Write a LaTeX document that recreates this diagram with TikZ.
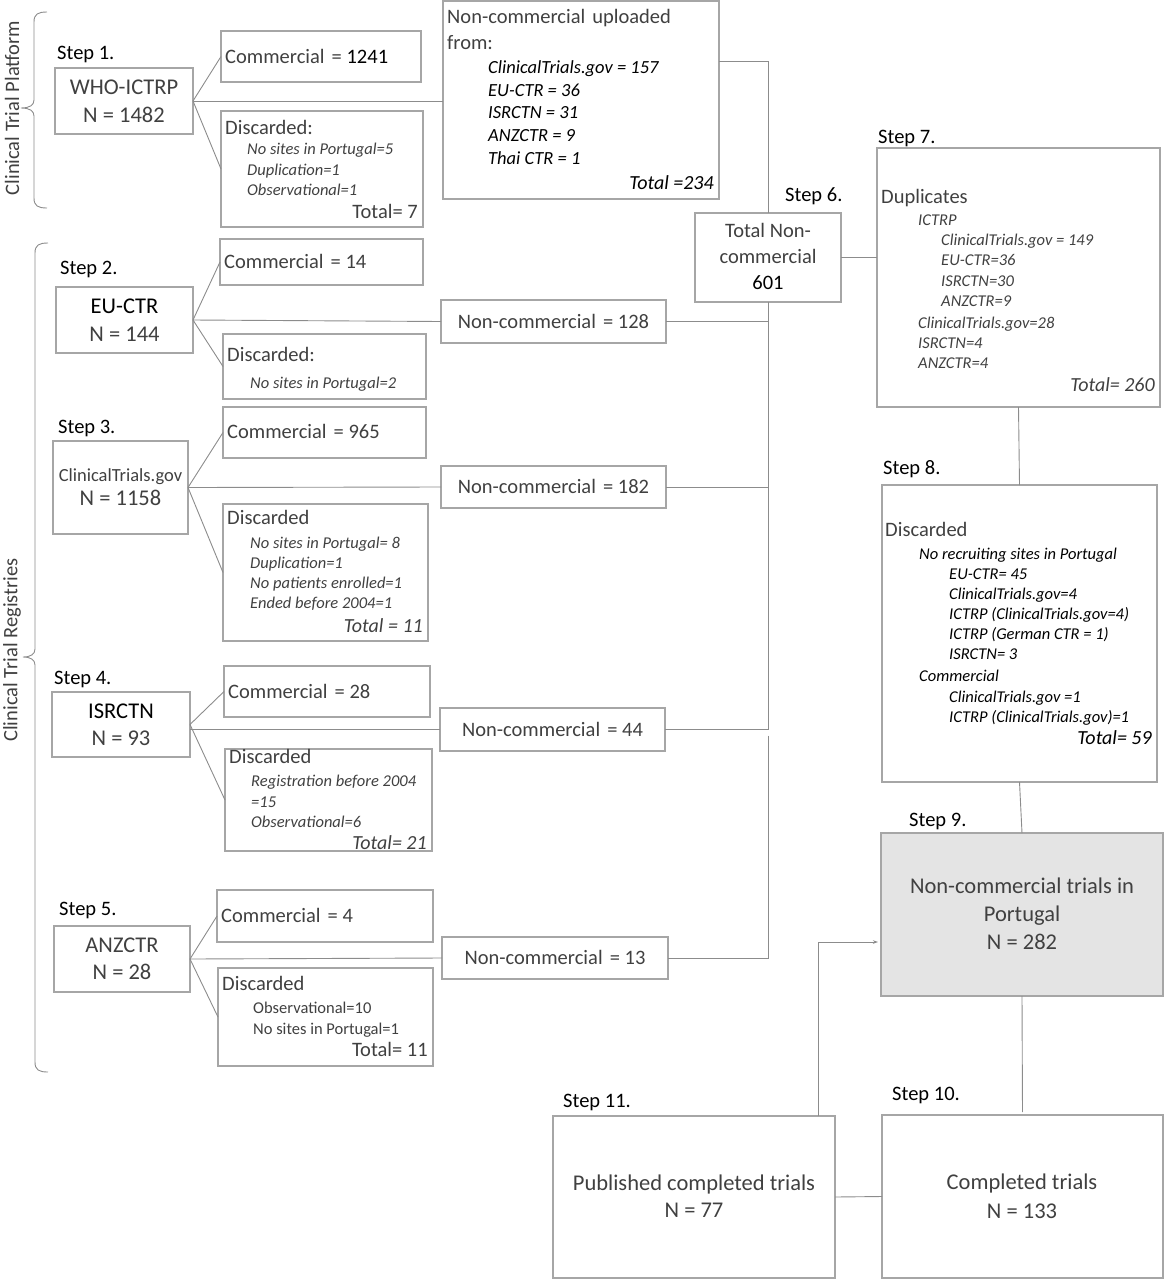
\documentclass[tikz,border=0pt]{standalone}
\usepackage{fontspec}
\setmainfont{Carlito}
\usetikzlibrary{arrows.meta,calc}
\definecolor{txtc}{HTML}{404040}
\definecolor{boxc}{HTML}{A6A6A6}
\definecolor{linec}{HTML}{8C8C8C}
\definecolor{fillnine}{HTML}{E4E4E4}
\newcommand\fszA{\fontsize{22.5}{26}\selectfont}
\newcommand\fszB{\fontsize{20.5}{24}\selectfont}
\newcommand\fszC{\fontsize{16.5}{20}\selectfont\itshape}
\newcommand\fszD{\fontsize{18.5}{22}\selectfont\itshape}
\newcommand\fszE{\fontsize{20}{24}\selectfont\itshape}
\newcommand\mkbox[5]{\node[boxs, minimum width={(#4)-(#2)}, minimum height={(#5)-(#3)}] (#1) at ({((#2)+(#4))/2},{((#3)+(#5))/2}) {};}
\begin{document}
\begin{tikzpicture}[x=1pt,y=-1pt,
  boxs/.style={draw=boxc, line width=1.1pt, inner sep=0, outer sep=0, rectangle},
  lnk/.style={draw=linec, line width=0.9pt},
  tA/.style={font=\fszA, text=txtc, inner sep=0},
  tB/.style={font=\fszB, text=txtc, inner sep=0},
  tC/.style={font=\fszC, text=txtc, inner sep=0},
  tCk/.style={font=\fszC, text=black, inner sep=0},
  tCu/.style={font=\fontsize{16.5}{20}\selectfont, text=txtc, inner sep=0},
  tD/.style={font=\fszD, text=black, inner sep=0},
  tE/.style={font=\fszE, text=txtc, inner sep=0},
  stl/.style={font=\fszB, text=black, inner sep=0, anchor=mid west}]
\useasboundingbox (0,0) rectangle (1164,1280);

% ---------- boxes ----------
\mkbox{who}{55}{68}{193}{134}
\mkbox{comA}{221}{31}{421}{82}
\mkbox{disA}{221}{111}{423}{227}
\mkbox{up}{443}{1}{719}{199}
\mkbox{tot}{695}{213}{841}{302}
\mkbox{eu}{56}{287}{193}{353}
\mkbox{comB}{220}{239}{423}{285}
\mkbox{disB}{223}{334}{426}{399}
\mkbox{ncB}{441}{300}{666}{343}
\mkbox{ct}{53}{441}{188}{534}
\mkbox{comC}{223}{407}{426}{458}
\mkbox{disC}{223}{504}{428}{641}
\mkbox{ncC}{441}{466}{666}{508}
\mkbox{is}{52}{692}{190}{757}
\mkbox{comD}{224}{666}{430}{717}
\mkbox{disD}{225}{749}{432}{851}
\mkbox{ncD}{440}{708}{665}{751}
\mkbox{anz}{54}{926}{190}{992}
\mkbox{comE}{217}{890}{433}{942}
\mkbox{disE}{218}{968}{433}{1066}
\mkbox{ncE}{442}{937}{668}{979}
\mkbox{sseven}{877}{148}{1160}{407}
\mkbox{seight}{882}{485}{1157}{782}
\node[boxs, fill=fillnine, minimum width=282, minimum height=163] (snine) at (1022,914.5) {};
\mkbox{sten}{882}{1115}{1163}{1278}
\mkbox{seleven}{553}{1116}{835}{1278}

% ---------- braces ----------
\draw[lnk] (47,12) .. controls (38,12) and (34,14) .. (34,22) -- (34,100)
  .. controls (34,105) and (30,108) .. (21,108)
  .. controls (30,108) and (34,111) .. (34,116) -- (34,198)
  .. controls (34,206) and (38,208) .. (47,208);
\draw[lnk] (48,243) .. controls (39,243) and (35,245) .. (35,253) -- (35,649)
  .. controls (35,654) and (31,657) .. (23,657)
  .. controls (31,657) and (35,660) .. (35,665) -- (35,1062)
  .. controls (35,1070) and (39,1072) .. (48,1072);
\node[font=\fszB, text=txtc, inner sep=0, rotate=90] (lblA) at (12,108) {Clinical Trial Platform};
\node[font=\fszB, text=txtc, inner sep=0, rotate=90] (lblB) at (12,650) {Clinical Trial Registries};

% ---------- connectors ----------
\draw[lnk] (who.east) -- (comA.west);
\draw[lnk] (who.east) -- (disA.west);
\draw[lnk] (who.east) -- (who.east -| up.west);
\draw[lnk] ([yshift=39pt]up.east) -| (tot.north);
\draw[lnk] (tot.east) -- (tot.east -| sseven.west);
\draw[lnk] (tot.south) -- (tot.south |- ncD.east);
\draw[lnk] ([yshift=-6pt]tot.south |- ncD.east) -- (tot.south |- ncE.east) -- (ncE.east);
\draw[lnk] (ncB.east) -- (ncB.east -| tot.south);
\draw[lnk] (ncC.east) -- (ncC.east -| tot.south);
\draw[lnk] (ncD.east) -- (ncD.east -| tot.south);

\draw[lnk] (eu.east) -- (comB.west);
\draw[lnk] (eu.east) -- (disB.west);
\draw[lnk] (eu.east) -- (ncB.west);
\draw[lnk] (ct.east) -- (comC.west);
\draw[lnk] (ct.east) -- (disC.west);
\draw[lnk] (ct.east) -- (ncC.west);
\draw[lnk] (is.east) -- (comD.west);
\draw[lnk] (is.east) -- (disD.west);
\draw[lnk] (ncD.west -| is.east) -- (ncD.west);
\draw[lnk] (anz.east) -- (comE.west);
\draw[lnk] (anz.east) -- (disE.west);
\draw[lnk] (anz.east) -- (ncE.west);

\draw[lnk] (sseven.south) -- (seight.north);
\draw[lnk] (seight.south) -- (snine.north);
\draw[lnk, shorten >=3pt] (snine.south) -- (sten.north);
\draw[lnk] (seleven.east) -- (sten.west);
\draw[lnk, -{Stealth[length=5pt,width=3.5pt]}, shorten >=3pt] ([xshift=124pt]seleven.north) |- ([yshift=-27.5pt]snine.west);

\begin{scope}[yshift=-4.5pt]
% ---------- step labels ----------
\node[stl] (stA) at (57,53) {Step 1.};
\node[stl] (stB) at (60,268) {Step 2.};
\node[stl] (stC) at (58,427) {Step 3.};
\node[stl] (stD) at (54,678) {Step 4.};
\node[stl] (stE) at (59,909) {Step 5.};
\node[stl] (stF) at (785,195) {Step 6.};
\node[stl] (stG) at (878,137) {Step 7.};
\node[stl] (stH) at (883,468) {Step 8.};
\node[stl] (stI) at (909,820) {Step 9.};
\node[stl] (stJ) at (892,1094) {Step 10.};
\node[stl] (stK) at (563,1101) {Step 11.};

% ---------- step 1 ----------
\node[tA, anchor=mid] (whoa) at (124,88) {WHO-ICTRP};
\node[tA, anchor=mid] (whob) at (124,116) {N = 1482};
\node[tB, anchor=mid west] (comAt) at (225,57) {Commercial\hspace{.12em} = \textcolor{black}{1241}};
\node[tB, anchor=mid west] (disAt) at (225,128) {Discarded:};
\node[tC, anchor=mid west] (disAa) at (247,148) {No sites in Portugal=5};
\node[tC, anchor=mid west] (disAb) at (247,169) {Duplication=1};
\node[tC, anchor=mid west] (disAc) at (247,189) {Observational=1};
\node[tB, anchor=mid east] (disAd) at (418,212) {Total= 7};

% ---------- uploaded ----------
\node[tB, anchor=mid west] (upa) at (447,17) {Non-commercial\hspace{.12em} uploaded};
\node[tB, anchor=mid west] (upb) at (447,43) {from:};
\node[tD, anchor=mid west] (upc) at (488,67) {ClinicalTrials.gov = 157};
\node[tD, anchor=mid west] (upd) at (488,90) {EU-CTR = 36};
\node[tD, anchor=mid west] (upe) at (488,112) {ISRCTN = 31};
\node[tD, anchor=mid west] (upf) at (488,135) {ANZCTR = 9};
\node[tD, anchor=mid west] (upg) at (488,158) {Thai CTR = 1};
\node[tD, anchor=mid east, font=\fszE] (uph) at (714,183) {Total =234};

% ---------- step 6 ----------
\node[tB, anchor=mid] (tota) at (768,231) {Total Non-};
\node[tB, anchor=mid] (totb) at (768,257) {commercial};
\node[tB, anchor=mid, text=black] (totc) at (768,283) {601};

% ---------- step 2 ----------
\node[tA, anchor=mid, text=black] (eua) at (124.5,307) {EU-CTR};
\node[tA, anchor=mid] (eub) at (124.5,335) {N = 144};
\node[tB, anchor=mid west] (comBt) at (224,262) {Commercial\hspace{.12em} = 14};
\node[tB, anchor=mid west] (disBt) at (227,355) {Discarded:};
\node[tC, anchor=mid west] (disBa) at (250,382) {No sites in Portugal=2};
\node[tB, anchor=mid] (ncBt) at (553.5,321.5) {Non-commercial\hspace{.12em} = 128};

% ---------- step 3 ----------
\node[font=\fontsize{18.5}{22}\selectfont, text=txtc, inner sep=0, anchor=mid] (cta) at (120.5,475) {ClinicalTrials.gov};
\node[tA, anchor=mid] (ctb) at (120.5,499) {N = 1158};
\node[tB, anchor=mid west] (comCt) at (227,432) {Commercial\hspace{.12em} = 965};
\node[tB, anchor=mid west] (disCt) at (227,518) {Discarded};
\node[tC, anchor=mid west] (disCa) at (250,542) {No sites in Portugal= 8};
\node[tC, anchor=mid west] (disCb) at (250,562) {Duplication=1};
\node[tC, anchor=mid west] (disCc) at (250,582) {No patients enrolled=1};
\node[tC, anchor=mid west] (disCd) at (250,602) {Ended before 2004=1};
\node[tE, anchor=mid east] (disCe) at (423,626) {Total = 11};
\node[tB, anchor=mid] (ncCt) at (553.5,487) {Non-commercial\hspace{.12em} = 182};

% ---------- step 4 ----------
\node[tA, anchor=mid, text=black] (isa) at (121,712) {ISRCTN};
\node[tA, anchor=mid] (isb) at (121,739) {N = 93};
\node[tB, anchor=mid west] (comDt) at (228,692) {Commercial\hspace{.12em} = 28};
\node[tB, anchor=mid west] (disDt) at (229,757) {Discarded};
\node[tC, anchor=mid west] (disDa) at (251,780) {Registration before 2004};
\node[tC, anchor=mid west] (disDb) at (251,801) {=15};
\node[tC, anchor=mid west] (disDc) at (251,821) {Observational=6};
\node[tE, anchor=mid east] (disDd) at (427,843) {Total= 21};
\node[tB, anchor=mid] (ncDt) at (552.5,729.5) {Non-commercial\hspace{.12em} = 44};

% ---------- step 5 ----------
\node[tA, anchor=mid] (anza) at (122,946) {ANZCTR};
\node[tA, anchor=mid] (anzb) at (122,973) {N = 28};
\node[tB, anchor=mid west] (comEt) at (221,916) {Commercial\hspace{.12em} = 4};
\node[tB, anchor=mid west] (disEt) at (222,984) {Discarded};
\node[tCu, anchor=mid west] (disEa) at (253,1007) {Observational=10};
\node[tCu, anchor=mid west] (disEb) at (253,1028) {No sites in Portugal=1};
\node[tB, anchor=mid east] (disEc) at (428,1050) {Total= 11};
\node[tB, anchor=mid] (ncEt) at (555,958) {Non-commercial\hspace{.12em} = 13};

% ---------- step 7 ----------
\node[tB, anchor=mid west] (sa) at (881,197) {Duplicates};
\node[tC, anchor=mid west] (sb) at (918,219) {ICTRP};
\node[tC, anchor=mid west] (sc) at (941,239) {ClinicalTrials.gov = 149};
\node[tC, anchor=mid west] (sd) at (941,259) {EU-CTR=36};
\node[tC, anchor=mid west] (se) at (941,280) {ISRCTN=30};
\node[tC, anchor=mid west] (sf) at (941,300) {ANZCTR=9};
\node[tC, anchor=mid west] (sg) at (918,322) {ClinicalTrials.gov=28};
\node[tC, anchor=mid west] (sh) at (918,342) {ISRCTN=4};
\node[tC, anchor=mid west] (si) at (918,362) {ANZCTR=4};
\node[tE, anchor=mid east] (sj) at (1155,385) {Total= 260};

% ---------- step 8 ----------
\node[tB, anchor=mid west] (ea) at (885,530) {Discarded};
\node[tCk, anchor=mid west] (eb) at (919,553) {No recruiting sites in Portugal};
\node[tCk, anchor=mid west] (ec) at (949,573) {EU-CTR= 45};
\node[tCk, anchor=mid west] (ed) at (949,593) {ClinicalTrials.gov=4};
\node[tCk, anchor=mid west] (ee) at (949,613) {ICTRP (ClinicalTrials.gov=4)};
\node[tCk, anchor=mid west] (ef) at (949,633) {ICTRP (German CTR = 1)};
\node[tCk, anchor=mid west] (eg) at (949,653) {ISRCTN= 3};
\node[tCk, anchor=mid west] (eh) at (919,675) {Commercial};
\node[tCk, anchor=mid west] (ei) at (949,696) {ClinicalTrials.gov =1};
\node[tCk, anchor=mid west] (ej) at (949,716) {ICTRP (ClinicalTrials.gov)=1};
\node[tE, anchor=mid east, text=black] (ek) at (1152,738) {Total= 59};

% ---------- steps 9-11 ----------
\node[tA, anchor=mid] (na) at (1022,887) {Non-commercial trials in};
\node[tA, anchor=mid] (nb) at (1022,915) {Portugal};
\node[tA, anchor=mid] (nc) at (1022,943) {N = 282};
\node[tA, anchor=mid] (ta) at (1022,1183) {Completed trials};
\node[tA, anchor=mid] (tb) at (1022,1212) {N = 133};
\node[tA, anchor=mid] (pa) at (694,1184) {Published completed trials};
\node[tA, anchor=mid] (pb) at (694,1211) {N = 77};
\end{scope}
\end{tikzpicture}
\end{document}
